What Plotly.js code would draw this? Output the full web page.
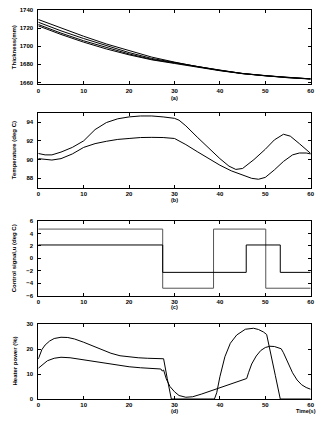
<!DOCTYPE html>
<html>
<head>
<meta charset="utf-8">
<script src="https://cdn.plot.ly/plotly-3.0.1.min.js"></script>
<style>html,body{margin:0;padding:0;background:#fff;}#chart{width:335px;height:422px;}</style>
</head>
<body>
<div id="chart"></div>
<script>
// ---- Panel (a): thickness (mm) ----
var thickX = [0, 5, 10, 15, 20, 25, 30, 35, 40, 45, 50, 55, 60];
var thick1 = [1729.5, 1720, 1711, 1702.5, 1695, 1688, 1682.5, 1677.5, 1673.5, 1670, 1667.5, 1665.5, 1664];
var thick2 = [1726.5, 1717, 1708.5, 1700.5, 1693, 1686.5, 1682, 1677.3, 1673.3, 1669.9, 1667.4, 1665.4, 1664];
var thick3 = [1724, 1714.5, 1706, 1698.5, 1691.5, 1685.5, 1681.5, 1677, 1673.2, 1669.8, 1667.3, 1665.3, 1663.9];
var thick4 = [1722.5, 1713, 1704.5, 1697, 1690.5, 1685, 1681, 1676.8, 1673, 1669.7, 1667.2, 1665.2, 1663.8];

// ---- Panel (b): temperature (deg C) ----
var temp1X = [0, 1.5, 3, 5, 7.5, 10, 12.5, 15, 17.5, 20, 22.5, 25, 27.5, 30, 31, 32.5, 35, 37.5, 40, 42, 43.5, 45, 47.5, 50, 52, 54, 55.5, 57.5, 60];
var temp1 = [90.65, 90.5, 90.5, 90.8, 91.3, 92.0, 93.2, 93.95, 94.35, 94.55, 94.65, 94.65, 94.55, 94.4, 94.2, 93.6, 92.4, 91.2, 90.1, 89.3, 88.95, 89.05, 90.0, 91.1, 92.1, 92.7, 92.5, 91.7, 90.65];
var temp2X = [0, 1.5, 3, 5, 7.5, 10, 12.5, 15, 17.5, 20, 22.5, 25, 27.5, 30, 32.5, 35, 37.5, 40, 42.5, 45, 47, 48.5, 50, 52, 54, 56, 57.5, 59, 60];
var temp2 = [90.1, 90.0, 89.95, 90.1, 90.6, 91.3, 91.7, 91.95, 92.15, 92.25, 92.35, 92.37, 92.35, 92.25, 91.6, 90.85, 90.1, 89.4, 88.8, 88.35, 88.0, 87.9, 88.1, 88.9, 89.8, 90.5, 90.7, 90.7, 90.6];

// ---- Panel (c): control signal (deg C), piecewise constant ----
var ctrl1X = [0, 27.4, 38.6, 50.1, 60];
var ctrl1 = [4.7, -4.8, 4.7, -4.8, -4.8];
var ctrl2X = [0, 27.4, 45.8, 53.3, 60];
var ctrl2 = [2.15, -2.25, 2.15, -2.25, -2.25];

// ---- Panel (d): heater power (%) ----
var heat1X = [0, 0.4, 0.8, 1.5, 2.5, 3.5, 5, 6.5, 8, 10, 12, 14, 16, 18, 20, 22, 24, 26, 27.6, 28.4, 29.3, 38.8, 39.3, 40, 41.1, 42.3, 43.7, 45.6, 47.4, 48.5, 49.6, 50.3, 51.2, 52.2, 53.3, 60];
var heat1 = [16, 18.3, 19.8, 21.6, 23.2, 24.2, 24.7, 24.6, 24, 22.7, 21.2, 19.7, 18.3, 17.3, 16.8, 16.5, 16.3, 16.2, 16.1, 8.2, 0, 0, 2.5, 8.9, 16.9, 22.3, 25.6, 27.9, 28.3, 27.8, 26.8, 25.8, 18.5, 9.5, 0, 0];
var heat2X = [0, 1, 2, 3.5, 5, 7, 10, 12.5, 15, 17.5, 20, 22.5, 25, 27, 27.3, 27.6, 28.2, 29, 30, 31, 32.5, 34, 36, 38, 40, 42, 44, 45.9, 46.3, 47, 48, 49, 50, 51, 52, 53.5, 54, 55, 56, 57, 58, 59, 60];
var heat2 = [12.3, 14, 15.3, 16.3, 16.7, 16.5, 15.6, 14.9, 14.3, 13.6, 12.9, 12.5, 12.2, 12, 11.2, 11.6, 8, 5, 2.9, 1.4, 0.7, 0.9, 2, 3.2, 4.4, 5.6, 6.8, 8.2, 10.5, 14, 17.2, 19.4, 20.6, 21.1, 21, 20.1, 18.5, 14.5, 10.5, 7.6, 5.7, 4.6, 3.9];

// ---- tick / labels ----
var xTicks = [0, 10, 20, 30, 40, 50, 60];
var panelLabels = ['(a)', '(b)', '(c)', '(d)'];
var yTitles = ['Thickness(mm)', 'Temperature (deg C)', 'Control signal,u (deg C)', 'Heater power (%)'];
var xTitle = 'Time(s)';

var W = 335, H = 422;
var FONT = 'Liberation Sans, Arial, sans-serif';
// plot areas in pixels: [top, bottom]
var boxes = [[10, 84.3], [112.7, 187.7], [221, 295.7], [324, 399]];
var left = 38.3, right = 310.7;
var yRanges = [[1658, 1740], [87, 95], [-6, 6], [0, 30]];
var yDticks = [20, 2, 2, 10];
var labelY = [97.5, 200, 306.5, 410.5];

function line(x, y, xa, ya, color, shape) {
  return {x: x, y: y, xaxis: xa, yaxis: ya, type: 'scatter', mode: 'lines',
          line: {color: color || '#000', width: 1, shape: shape || 'linear'},
          hoverinfo: 'skip', showlegend: false};
}

var data = [
  line(thickX, thick1, 'x', 'y'), line(thickX, thick2, 'x', 'y'),
  line(thickX, thick3, 'x', 'y'), line(thickX, thick4, 'x', 'y'),
  line(temp1X, temp1, 'x2', 'y2'), line(temp2X, temp2, 'x2', 'y2'),
  line(ctrl1X, ctrl1, 'x3', 'y3', '#555', 'hv'),
  line(ctrl2X, ctrl2, 'x3', 'y3', '#000', 'hv'),
  line(heat1X, heat1, 'x4', 'y4'), line(heat2X, heat2, 'x4', 'y4')
];

var layout = {
  width: W, height: H,
  margin: {l: 0, r: 0, t: 0, b: 0},
  paper_bgcolor: '#fff', plot_bgcolor: '#fff',
  showlegend: false,
  font: {family: FONT, size: 6, color: '#000'},
  annotations: []
};

var tickFont = {family: FONT, size: 6, color: '#000', weight: 'bold'};
for (var i = 0; i < 4; i++) {
  var sx = i === 0 ? '' : String(i + 1);
  var dom = [(H - boxes[i][1]) / H, (H - boxes[i][0]) / H];
  layout['xaxis' + sx] = {
    domain: [left / W, right / W], anchor: 'y' + sx, range: [0, 60],
    tickvals: xTicks, ticktext: xTicks.map(String),
    ticks: 'inside', ticklen: 3, tickwidth: 1, tickcolor: '#000',
    showline: true, linecolor: '#000', linewidth: 1, mirror: 'ticks',
    showgrid: false, zeroline: false, tickfont: tickFont, fixedrange: true
  };
  layout['yaxis' + sx] = {
    domain: dom, anchor: 'x' + sx, range: yRanges[i], dtick: yDticks[i],
    ticks: 'inside', ticklen: 3, tickwidth: 1, tickcolor: '#000',
    showline: true, linecolor: '#000', linewidth: 1, mirror: 'ticks',
    showgrid: false, zeroline: false, tickfont: tickFont, fixedrange: true,
    ticklabelstandoff: 3
  };
  layout.annotations.push({
    text: panelLabels[i], xref: 'paper', yref: 'paper', showarrow: false,
    x: (left + right) / 2 / W, y: 1 - labelY[i] / H, xanchor: 'center', yanchor: 'middle',
    font: {family: FONT, size: 5.5, color: '#000', weight: 'bold'}
  });
  layout.annotations.push({
    text: yTitles[i], xref: 'paper', yref: 'paper', showarrow: false, textangle: -90,
    x: 14 / W, y: 1 - (boxes[i][0] + boxes[i][1]) / 2 / H, xanchor: 'center', yanchor: 'middle',
    font: {family: FONT, size: 6, color: '#000', weight: 'bold'}
  });
}
layout.annotations.push({
  text: xTitle, xref: 'paper', yref: 'paper', showarrow: false,
  x: 306 / W, y: 1 - 410.5 / H, xanchor: 'center', yanchor: 'middle',
  font: {family: FONT, size: 5.5, color: '#000', weight: 'bold'}
});

Plotly.newPlot('chart', data, layout, {staticPlot: true, displayModeBar: false});
</script>
</body>
</html>
